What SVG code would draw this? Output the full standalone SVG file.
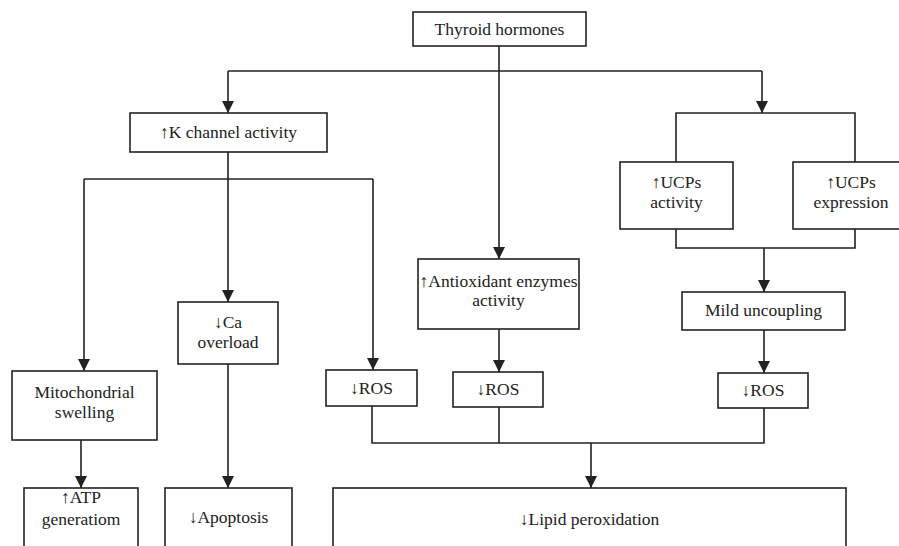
<svg xmlns="http://www.w3.org/2000/svg" width="899" height="546" viewBox="0 0 899 546">
<style>
.box{fill:#fff;stroke:#222;stroke-width:1.6}
.ln{fill:none;stroke:#222;stroke-width:1.6}
.ar{fill:none;stroke:#222;stroke-width:1.6;marker-end:url(#ah)}
text{font-family:"Liberation Serif","Times New Roman",serif;font-size:17.5px;fill:#222;text-anchor:middle}
</style>
<defs>
<marker id="ah" markerUnits="userSpaceOnUse" markerWidth="12" markerHeight="12" refX="12" refY="6" orient="auto">
<path d="M0,0 L12,6 L0,12 z" fill="#222"/>
</marker>
</defs>
<rect width="899" height="546" fill="#fff"/>
<g id="connectors">
<line class="ar" x1="499" y1="46" x2="499" y2="259"/>
<line class="ln" x1="228" y1="71" x2="762" y2="71"/>
<line class="ar" x1="228" y1="71" x2="228" y2="113"/>
<line class="ar" x1="762" y1="71" x2="762" y2="113"/>
<polyline class="ln" points="676,162 676,113 855,113 855,162"/>
<polyline class="ln" points="676,229 676,248 855,248 855,229"/>
<line class="ar" x1="764" y1="248" x2="764" y2="292"/>
<line class="ar" x1="764" y1="330" x2="764" y2="373"/>
<line class="ar" x1="499" y1="329" x2="499" y2="372"/>
<line class="ln" x1="228" y1="152" x2="228" y2="179"/>
<line class="ln" x1="84" y1="179" x2="373" y2="179"/>
<line class="ar" x1="84" y1="179" x2="84" y2="371"/>
<line class="ar" x1="228" y1="179" x2="228" y2="302"/>
<line class="ar" x1="373" y1="179" x2="373" y2="370"/>
<polyline class="ln" points="372,406 372,443 764,443 764,408"/>
<line class="ln" x1="499" y1="407" x2="499" y2="443"/>
<line class="ar" x1="591" y1="443" x2="591" y2="488"/>
<line class="ar" x1="81" y1="440" x2="81" y2="488"/>
<line class="ar" x1="228" y1="364" x2="228" y2="488"/>
</g>
<g id="thyroid"><rect class="box" x="413" y="12" width="173" height="34"/><text x="499.5" y="35">Thyroid hormones</text></g>
<g id="kchannel"><rect class="box" x="130" y="113" width="197" height="39"/><text x="228.5" y="138">↑K channel activity</text></g>
<g id="ucpsact"><rect class="box" x="620" y="162" width="113" height="67"/><text x="676.5" y="188">↑UCPs</text><text x="676.5" y="208">activity</text></g>
<g id="ucpsexp"><rect class="box" x="793" y="162" width="120" height="67"/><text x="851" y="188">↑UCPs</text><text x="851" y="208">expression</text></g>
<g id="mild"><rect class="box" x="682" y="292" width="163" height="38"/><text x="763.5" y="316">Mild uncoupling</text></g>
<g id="ros3"><rect class="box" x="718" y="373" width="90" height="35"/><text x="763" y="396">↓ROS</text></g>
<g id="antiox"><rect class="box" x="418" y="259" width="161" height="70"/><text x="498.5" y="287">↑Antioxidant enzymes</text><text x="498.5" y="306">activity</text></g>
<g id="ros2"><rect class="box" x="453" y="372" width="90" height="35"/><text x="498" y="395">↓ROS</text></g>
<g id="mito"><rect class="box" x="12" y="371" width="145" height="69"/><text x="84.5" y="398">Mitochondrial</text><text x="84.5" y="418">swelling</text></g>
<g id="ca"><rect class="box" x="178" y="302" width="100" height="62"/><text x="228" y="328">↓Ca</text><text x="228" y="348">overload</text></g>
<g id="ros1"><rect class="box" x="326" y="370" width="91" height="36"/><text x="371.5" y="394">↓ROS</text></g>
<g id="atp"><rect class="box" x="24" y="488" width="114" height="80"/><text x="81" y="503">↑ATP</text><text x="81" y="525">generatiom</text></g>
<g id="apoptosis"><rect class="box" x="165" y="488" width="127" height="80"/><text x="228.5" y="523">↓Apoptosis</text></g>
<g id="lipid"><rect class="box" x="333" y="488" width="513" height="80"/><text x="589.5" y="525">↓Lipid peroxidation</text></g>
</svg>
